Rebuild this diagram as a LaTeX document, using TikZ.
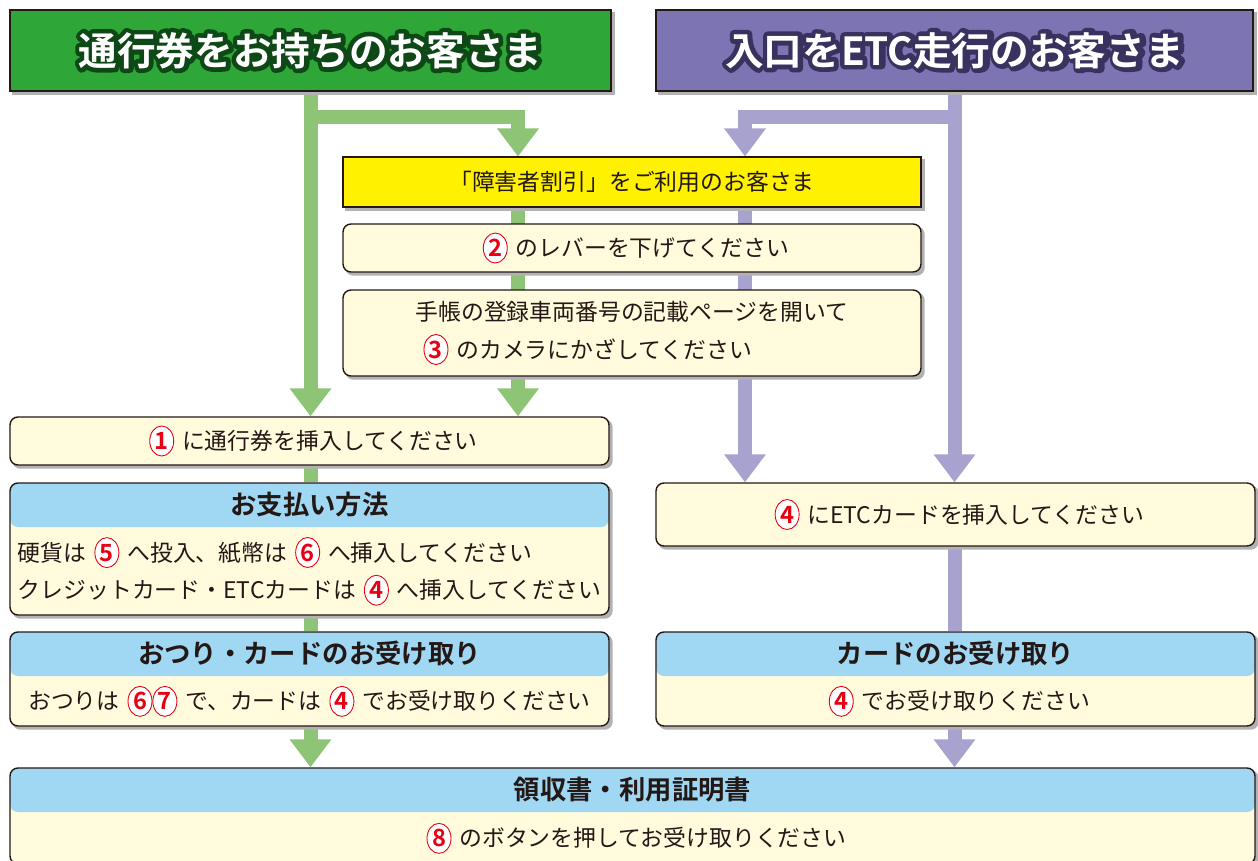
\documentclass[tikz,border=0pt]{standalone}
\usepackage{fontspec}
\setmainfont{Noto Sans CJK JP}[BoldFont=* Bold]
\newfontfamily\hdrstroke{Noto Sans CJK JP Bold}[FakeBold=22]
\usetikzlibrary{positioning}
\usetikzlibrary{calc}
\usetikzlibrary{arrows.meta}
\usetikzlibrary{shapes.geometric}
\usetikzlibrary{backgrounds}
\definecolor{hdgreen}{RGB}{46,167,56}
\definecolor{hdgreendk}{RGB}{14,72,22}
\definecolor{hdpurple}{RGB}{124,116,179}
\definecolor{hdpurpledk}{RGB}{58,50,94}
\definecolor{lngreen}{RGB}{141,196,117}
\definecolor{lnpurple}{RGB}{168,162,206}
\definecolor{cream}{RGB}{255,251,220}
\definecolor{hdblue}{RGB}{160,216,244}
\definecolor{signyellow}{RGB}{255,241,0}
\definecolor{ink}{RGB}{35,24,21}
\definecolor{numred}{RGB}{230,0,18}
\tikzset{
  circnum/.style={ellipse, draw=numred, fill=white, text=numred, line width=0.5pt,
    inner sep=0pt, minimum width=4.8mm, minimum height=6mm,
    font=\bfseries\fontsize{13.5}{14}\selectfont}
}
\newcommand{\cnum}[1]{\hspace{1.6mm}\tikz[baseline=(cn.base)]\node[circnum] (cn) {#1};\hspace{1.6mm}}
% dark rim under the white header lettering
\newcommand{\outlined}[2]{\makebox[0pt][l]{\special{pdf:literal direct 1 j}\hdrstroke\color{#1}#2}#2}

\begin{document}
\begin{tikzpicture}
    [x=0.2mm, y=-0.2mm,
    hdr/.style={draw=ink, line width=0.6pt, text=white, inner sep=0pt,
      font=\bfseries\fontsize{22}{26}\selectfont},
    sign/.style={draw=ink, line width=0.6pt, fill=signyellow, text=ink, inner sep=0pt,
      font=\fontsize{13}{15}\selectfont},
    infobox/.style={draw=ink, line width=0.8pt, fill=cream, rounded corners=1.6mm, inner sep=0pt,
      text=ink, font=\fontsize{13}{21.5}\selectfont},
    titlebox/.style={infobox, path picture={\fill[hdblue] (path picture bounding box.north west)
      rectangle ([yshift=-8.8mm]path picture bounding box.north east);}},
    boxhead/.style={minimum height=8.8mm, inner sep=0pt, text=ink,
      font=\bfseries\fontsize{15}{18}\selectfont},
    boxbody/.style={inner sep=0pt, align=left, text=ink, font=\fontsize{13}{21.5}\selectfont},
    flowG/.style={draw=lngreen, line width=2.8mm, line join=miter},
    flowP/.style={draw=lnpurple, line width=2.8mm, line join=miter},
    tip/.tip={Triangle[width=8mm, length=5.6mm]},
    shade/.style={fill=black!30}]
    \useasboundingbox (0,0) rectangle (1258,861);
    % headers
    \node[hdr, fill=hdgreen, minimum width=120.2mm, minimum height=16.2mm] (hdrA) at (310.5, 50.5)
      {\outlined{hdgreendk}{通行券をお持ちのお客さま}};
    \node[hdr, fill=hdpurple, minimum width=119.4mm, minimum height=16.2mm] (hdrB) at (954.5, 50.5)
      {\outlined{hdpurpledk}{入口をETC走行のお客さま}};
    % discount path
    \node[sign, minimum width=115.6mm, minimum height=10mm] (discount) at (632, 182)
      {「障害者割引」をご利用のお客さま};
    \node[infobox, minimum width=115.6mm, minimum height=9.6mm] (lever) at (632, 248)
      {\cnum{2}のレバーを下げてください};
    \node[infobox, minimum width=115.6mm, minimum height=17.2mm, align=left] (camera) at (632, 333)
      {手帳の登録車両番号の記載ページを開いて\\\cnum{3}のカメラにかざしてください};
    % ticket side
    \node[infobox, minimum width=119.8mm, minimum height=9.6mm] (ticket) at (309.5, 441)
      {\cnum{1}に通行券を挿入してください};
    \node[titlebox, minimum width=119.8mm, minimum height=26.4mm] (pay) at (309.5, 549) {};
    \node[boxhead, anchor=north] (payT) at (pay.north) {お支払い方法};
    \node[boxbody] (payB) at ($(payT.south)!0.5!(pay.south)$)
      {硬貨は\cnum{5}へ投入、紙幣は\cnum{6}へ挿入してください\\
       クレジットカード・ETCカードは\cnum{4}へ挿入してください};
    \node[titlebox, minimum width=119.8mm, minimum height=18.8mm] (change) at (309.5, 679) {};
    \node[boxhead, anchor=north] (changeT) at (change.north) {おつり・カードのお受け取り};
    \node[boxbody] (changeB) at ($(changeT.south)!0.5!(change.south)$)
      {おつりは\cnum{6}\hspace{-3.2mm}\cnum{7}で、カードは\cnum{4}でお受け取りください};
    % ETC side
    \node[infobox, minimum width=119.8mm, minimum height=12.6mm] (etcin) at (955.5, 514.5)
      {\cnum{4}にETCカードを挿入してください};
    \node[titlebox, minimum width=119.8mm, minimum height=18.8mm] (cardback) at (955.5, 679) {};
    \node[boxhead, anchor=north] (cardbackT) at (cardback.north) {カードのお受け取り};
    \node[boxbody] (cardbackB) at ($(cardbackT.south)!0.5!(cardback.south)$)
      {\cnum{4}でお受け取りください};
    % receipt
    \node[titlebox, minimum width=249mm, minimum height=19.2mm] (receipt) at (632.5, 816) {};
    \node[boxhead, anchor=north] (receiptT) at (receipt.north) {領収書・利用証明書};
    \node[boxbody] (receiptB) at ($(receiptT.south)!0.5!(receipt.south)$)
      {\cnum{8}のボタンを押してお受け取りください};
    \begin{scope}[on background layer]
      \coordinate (gfork) at (hdrA.south |- 0,117);
      \coordinate (gcol) at (518,117);
      \coordinate (pfork) at (hdrB.south |- 0,117);
      \coordinate (pcol) at (745,117);
      % green flow
      \draw[flowG, -tip] (hdrA.south) -- (hdrA.south |- ticket.north);
      \draw[flowG, -tip] (gfork) -- (gcol) -- (gcol |- discount.north);
      \draw[flowG, -tip] (gcol |- discount.south) -- (gcol |- ticket.north);
      \draw[flowG] (ticket.south -| gfork) -- (pay.north -| gfork);
      \draw[flowG] (pay.south -| gfork) -- (change.north -| gfork);
      \draw[flowG, -tip] (change.south -| gfork) -- (receipt.north -| gfork);
      % purple flow
      \draw[flowP, -tip] (hdrB.south) -- (hdrB.south |- etcin.north);
      \draw[flowP, -tip] (pfork) -- (pcol) -- (pcol |- discount.north);
      \draw[flowP, -tip] (pcol |- discount.south) -- (pcol |- etcin.north);
      \draw[flowP] (etcin.south -| pfork) -- (cardback.north -| pfork);
      \draw[flowP, -tip] (cardback.south -| pfork) -- (receipt.north -| pfork);
      % shadows
      \foreach \b in {hdrA,hdrB,discount}
        \fill[shade] ([xshift=0.6mm,yshift=-0.6mm]\b.north west) rectangle ([xshift=0.6mm,yshift=-0.6mm]\b.south east);
      \foreach \b in {lever,camera,ticket,pay,etcin,change,cardback,receipt}
        \fill[shade, rounded corners=1.6mm] ([xshift=0.6mm,yshift=-0.6mm]\b.north west) rectangle ([xshift=0.6mm,yshift=-0.6mm]\b.south east);
    \end{scope}
\end{tikzpicture}
\end{document}
